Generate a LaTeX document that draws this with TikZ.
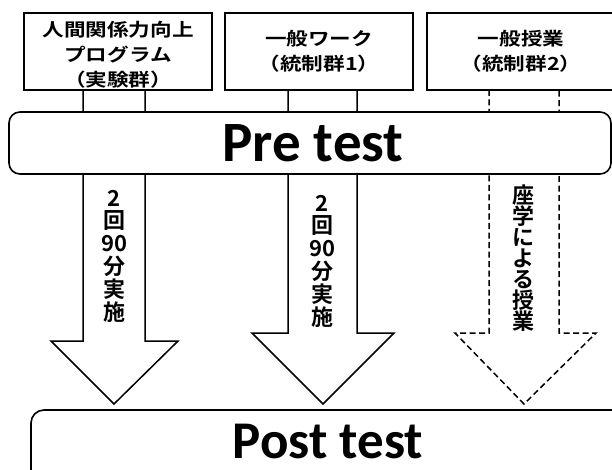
\documentclass[tikz,border=0pt]{standalone}
\usepackage{fontspec}
\newfontfamily\jp{Noto Sans CJK JP}[BoldFont={Noto Sans CJK JP Bold}]
\newfontfamily\jpw{Noto Sans CJK JP}[FakeStretch=1.2,BoldFont={Noto Sans CJK JP Bold}]
\newfontfamily\calfont{Carlito}
\pgfdeclarelayer{bg}
\pgfsetlayers{bg,main}
\begin{document}
\begin{tikzpicture}[x=1pt,y=-1pt,
  grp/.style={draw, line width=1.6pt, minimum width=188pt, minimum height=77pt, inner sep=0pt},
  grptxt/.style={align=center, inner sep=0pt, font=\jpw\bfseries\fontsize{18}{25}\selectfont},
  testbox/.style={draw, line width=1.6pt, rounded corners=11pt, fill=white, inner sep=0pt},
  testtxt/.style={anchor=base, inner sep=0pt, font=\calfont\bfseries\fontsize{#1}{#1}\selectfont},
  blk/.style={draw, line width=1.5pt, fill=white, line join=miter},
  blkd/.style={blk, dash pattern=on 6pt off 3.5pt},
  vtxt/.style={align=center, inner sep=0pt, font=\jp\bfseries\fontsize{22}{#1}\selectfont}
]
\clip (0,0) rectangle (612,470);
\begin{pgfonlayer}{bg}
\fill[white] (0,0) rectangle (612,470);
\end{pgfonlayer}
% group boxes
\node[grp] (g1) at (118,51.5) {};
\node[grp] (g2) at (319,51.5) {};
\node[grp] (g3) at (521,51.5) {};
\node[grptxt] (g1t) at (118,54.5) {人間関係力向上\\プログラム\\（実験群）};
\node[grptxt] (g2t) at (319,51) {一般ワーク\\（統制群1）};
\node[grptxt] (g3t) at (521,51) {一般授業\\（統制群2）};
% block arrows
\begin{pgfonlayer}{bg}
\draw[blk] (83,90) -- (83,341) -- (51,341) -- (114,404) coordinate (t1) -- (178,341) -- (145,341) -- (145,90);
\draw[blk] (288,90) -- (288,333) -- (252,333) -- (323,404) coordinate (t2) -- (394,333) -- (357,333) -- (357,90);
\draw[blkd] (489,90) -- (489,333) -- (455,333) -- (524,404) coordinate (t3) -- (596,333) -- (559,333) -- (559,90);
\end{pgfonlayer}
% tests
\node[testbox, minimum width=602pt, minimum height=62pt] (pre) at (310,143) {};
\node[testtxt=57] (pretxt) at (313,162) {Pre test};
\node[testbox, rounded corners=13pt, minimum width=609pt, minimum height=110pt] (post) at (335.5,465) {};
\node[testtxt=53] (posttxt) at (328,458) {Post test};
% arrow texts
\node[vtxt=22.8] (v1) at (114,256) {2\\回\\90\\分\\実\\施};
\node[vtxt=22.8] (v2) at (322,261) {2\\回\\90\\分\\実\\施};
\node[vtxt=21] (v3) at (523,258) {座\\学\\に\\よ\\る\\授\\業};
\end{tikzpicture}
\end{document}
